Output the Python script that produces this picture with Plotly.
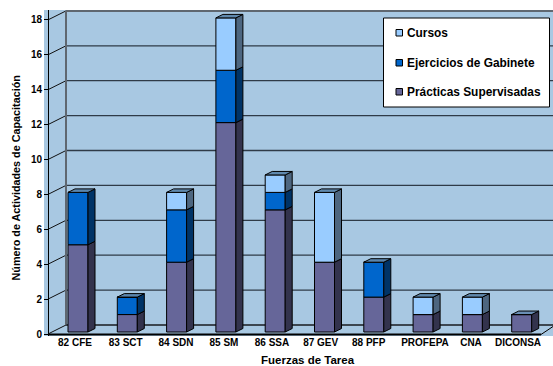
import plotly.graph_objects as go

categories = ["82 CFE", "83 SCT", "84 SDN", "85 SM", "86 SSA", "87 GEV", "88 PFP", "PROFEPA", "CNA", "DICONSA"]
practicas = [5, 1, 4, 12, 7, 4, 2, 1, 1, 1]
ejercicios = [3, 1, 3, 3, 1, 0, 2, 0, 0, 0]
cursos = [0, 0, 1, 3, 1, 4, 0, 1, 1, 0]
y_ticks = list(range(0, 19, 2))

series = [
    ("Prácticas Supervisadas", practicas, "#666699", "#33334d"),
    ("Ejercicios de Gabinete", ejercicios, "#0066cc", "#003366"),
    ("Cursos", cursos, "#99ccff", "#4d6680"),
]
CAP = {"#666699": "#6a8fb5", "#0066cc": "#5b86ad", "#99ccff": "#5f88ad"}

W, H = 553, 366
L, R, T, B = 44, 553, 10, 336
X0, XSTEP = 78.0, 49.3
Y0, YSTEP = 334.0, 17.45


def xv(px):
    return (px - X0) / XSTEP


def yv(py):
    return (Y0 - py) / YSTEP


def xp(px):
    return (px - L) / (R - L)


def yp(py):
    return (B - py) / (B - T)


BAR_W = 20.0 / XSTEP
BASE = 2.0 / YSTEP
DX, DY = 7.0 / XSTEP, 3.5 / YSTEP
WALL_X, WALL_Y = 18.0, 9.0

fig = go.Figure()
cum = [BASE] * len(categories)
side_traces = []
for name, vals, col, side in series:
    fig.add_trace(go.Bar(
        x=list(range(len(categories))), y=vals, base=list(cum), name=name, width=BAR_W,
        marker=dict(color=col, line=dict(color="#000000", width=1)), showlegend=False,
    ))
    for i, v in enumerate(vals):
        if v == 0:
            continue
        r = i + BAR_W / 2
        b, t = cum[i], cum[i] + v
        side_traces.append(go.Scatter(
            x=[r, r + DX, r + DX, r, r], y=[b, b + DY, t + DY, t, b],
            mode="lines", fill="toself", fillcolor=side,
            line=dict(color="#000000", width=1), showlegend=False, hoverinfo="skip",
        ))
        cum[i] = t

top_col = {}
for name, vals, col, side in series:
    for i, v in enumerate(vals):
        if v:
            top_col[i] = col
for i, t in enumerate(cum):
    l, r = i - BAR_W / 2, i + BAR_W / 2
    side_traces.append(go.Scatter(
        x=[l, r, r + DX, l + DX, l], y=[t, t, t + DY, t + DY, t],
        mode="lines", fill="toself", fillcolor=CAP[top_col[i]],
        line=dict(color="#000000", width=1), showlegend=False, hoverinfo="skip",
    ))
fig.add_traces(side_traces)

shapes = []
GRID = "#2f3b47"
for v in y_ticks:
    py = Y0 - v * YSTEP
    if 0 < v < 18:
        shapes.append(dict(type="line", xref="x", yref="y", layer="below",
                           x0=xv(48 + WALL_X), x1=xv(R + 2), y0=yv(py - WALL_Y), y1=yv(py - WALL_Y),
                           line=dict(color=GRID, width=1.3)))
    shapes.append(dict(type="line", xref="x", yref="y", layer="below",
                       x0=xv(48), x1=xv(48 + WALL_X), y0=yv(py), y1=yv(py - WALL_Y),
                       line=dict(color="#111111", width=1)))
WALL = "#5f6770"
shapes += [
    dict(type="line", xref="x", yref="y", layer="below", x0=xv(66), x1=xv(R + 2), y0=yv(11), y1=yv(11),
         line=dict(color=WALL, width=2)),
    dict(type="line", xref="x", yref="y", layer="below", x0=xv(66), x1=xv(66), y0=yv(11), y1=yv(325),
         line=dict(color=WALL, width=2)),
    dict(type="line", xref="x", yref="y", layer="below", x0=xv(66), x1=xv(R + 2), y0=yv(325), y1=yv(325),
         line=dict(color="#3c4650", width=2)),
    dict(type="line", xref="x", yref="y", layer="above", x0=xv(48), x1=xv(541), y0=yv(334.5), y1=yv(334.5),
         line=dict(color="#000000", width=2)),
    dict(type="line", xref="x", yref="y", layer="above", x0=xv(541), x1=xv(R), y0=yv(334.5), y1=yv(326.5),
         line=dict(color="#000000", width=1)),
    dict(type="rect", xref="x", yref="y", layer="above", x0=xv(383.5), x1=xv(549.5), y0=yv(18), y1=yv(107),
         fillcolor="#ffffff", line=dict(color="#000000", width=1)),
]

annotations = []
FONT = "Liberation Sans, Arial, sans-serif"
for (name, vals, col, side), py in zip(series, [92, 63, 33]):
    shapes.append(dict(type="rect", xref="x", yref="y", layer="above",
                       x0=xv(396), x1=xv(402.5), y0=yv(py - 3.5), y1=yv(py + 3),
                       fillcolor=col, line=dict(color="#000000", width=1)))
    annotations.append(dict(xref="paper", yref="paper", x=xp(406), y=yp(py), text=f"<b>{name}</b>", showarrow=False,
                            xanchor="left", yanchor="middle", xshift=-1, font=dict(family=FONT, size=11.9, color="#000000")))

annotations.append(dict(xref="paper", yref="paper", x=xp(308), y=yp(360.5), text="<b>Fuerzas de Tarea</b>", showarrow=False,
                        xanchor="center", yanchor="middle", font=dict(family=FONT, size=11.5, color="#000000")))
annotations.append(dict(xref="paper", yref="paper", x=xp(15), y=yp(178.5), text="<b>Número de Actividades de Capacitación</b>",
                        showarrow=False, textangle=-90, xanchor="center", yanchor="middle",
                        font=dict(family=FONT, size=10.8, color="#000000")))

label_px = [75, 125.7, 176, 224, 272, 320.7, 368.7, 425, 471, 518]

fig.update_layout(
    width=W, height=H, margin=dict(l=L, r=W - R, t=T, b=H - B, pad=0, autoexpand=False),
    paper_bgcolor="#ffffff", plot_bgcolor="#a8c8e2", barmode="overlay", showlegend=False,
    font=dict(family=FONT, color="#000000"), shapes=shapes, annotations=annotations,
    xaxis=dict(range=[xv(L), xv(R)], domain=[0, 1], tickmode="array",
               tickvals=[xv(p) for p in label_px], ticktext=[f"<b>{c}</b>" for c in categories],
               tickfont=dict(size=10, family=FONT), ticks="", showgrid=False, zeroline=False, showline=False,
               tickangle=0, automargin=False, ticklabelstandoff=-1),
    yaxis=dict(range=[yv(B), yv(T)], anchor="free", position=(48 - L) / (R - L), tickmode="array",
               tickvals=y_ticks, ticktext=[f"<b>{v}</b>" for v in y_ticks], tickfont=dict(size=10, family=FONT),
               ticks="outside", ticklen=4, tickwidth=1, tickcolor="#000000", showline=True, linecolor="#000000",
               linewidth=1, showgrid=False, zeroline=False, automargin=False),
)
fig.write_html("out.html", config=dict(displayModeBar=False),
               post_script="document.body.style.margin='0';document.body.style.overflow='hidden';")
